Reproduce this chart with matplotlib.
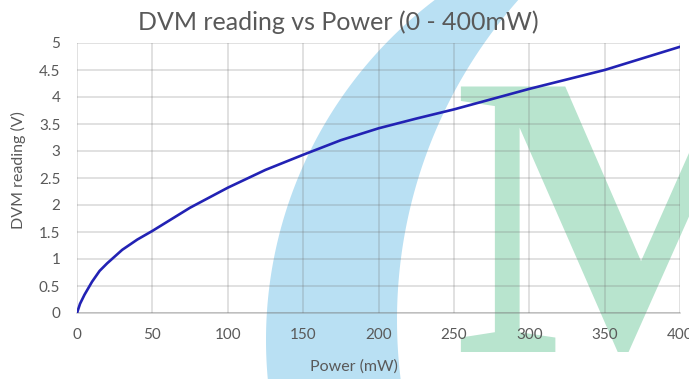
import numpy as np
import matplotlib
matplotlib.use("Agg")
import matplotlib.pyplot as plt
from matplotlib.patches import Polygon

# data
power_mw = [0, 2, 5, 10, 15, 20, 30, 40, 50, 75, 100, 125, 150, 175, 200, 225, 250, 300, 350, 400]
dvm_v = [0, 0.17, 0.34, 0.58, 0.78, 0.92, 1.17, 1.36, 1.52, 1.95, 2.32, 2.65, 2.93, 3.20,
         3.42, 3.60, 3.77, 4.15, 4.50, 4.93]
x_ticks = [0, 50, 100, 150, 200, 250, 300, 350, 400]
y_ticks = [0, 0.5, 1, 1.5, 2, 2.5, 3, 3.5, 4, 4.5, 5]
y_labels = ["0", "0.5", "1", "1.5", "2", "2.5", "3", "3.5", "4", "4.5", "5"]

W, H = 689, 379
txt = "#595959"
plt.rcParams['font.family'] = ['Lato', 'DejaVu Sans']

fig = plt.figure(figsize=(W / 100, H / 100), dpi=100)

# watermark behind everything, in pixel coords
bg = fig.add_axes([0, 0, 1, 1], zorder=0)
bg.set_xlim(0, W)
bg.set_ylim(H, 0)
bg.axis("off")

yy = np.linspace(-10, H + 10, 80)
left = 693 - np.sqrt(427 ** 2 - (yy - 340) ** 2)
right = 880 - np.sqrt(483 ** 2 - (yy - 320) ** 2)
pts = np.vstack([np.column_stack([left, yy]), np.column_stack([right, yy])[::-1]])
bg.add_patch(Polygon(pts, closed=True, facecolor="#b9e0f3", edgecolor="none"))
bg.text(453, 352, "M", fontsize=292, family="Liberation Serif", fontweight="bold",
        color="#b8e4ce", ha="left", va="baseline")

# main chart
ax = fig.add_axes([77 / W, 1 - 313 / H, 603 / W, 270 / H], zorder=1)
ax.patch.set_visible(False)

ax.plot(power_mw, dvm_v, color="#2222b4", lw=1.9, solid_capstyle="round", zorder=3)

ax.set_xlim(0, 400)
ax.set_ylim(0, 5)
ax.set_xticks(x_ticks)
ax.set_yticks(y_ticks)
ax.set_yticklabels(y_labels)
ax.grid(True, color="#707070", alpha=0.27, lw=1.1)
ax.set_axisbelow(True)
for s in ["top", "right", "left"]:
    ax.spines[s].set_visible(False)
ax.spines["bottom"].set_color("#707070")
ax.spines["bottom"].set_alpha(0.38)
ax.spines["bottom"].set_linewidth(1.1)
ax.tick_params(length=0, labelsize=11, colors=txt)
ax.tick_params(axis="x", pad=11)
ax.tick_params(axis="y", pad=12)

ax.set_xlabel("Power (mW)", fontsize=11.5, color=txt)
ax.xaxis.label.set_va("center")
ax.xaxis.set_label_coords(0.5 - 25 / 603, -54 / 270)
ax.set_ylabel("DVM reading (V)", fontsize=11.5, color=txt)
ax.yaxis.label.set_va("center")
ax.yaxis.set_label_coords(-59 / 603, 0.5 + 8 / 270)

fig.text(338 / W, 1 - 22 / H, "DVM reading vs Power (0 - 400mW)", fontsize=18,
         color=txt, ha="center", va="center")

fig.savefig("out.png", dpi=100)
